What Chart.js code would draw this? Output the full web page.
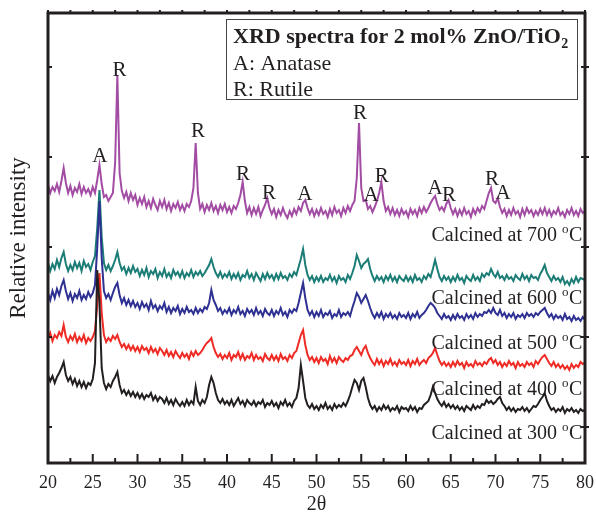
<!DOCTYPE html>
<html><head><meta charset="utf-8">
<script src="https://cdn.jsdelivr.net/npm/chart.js@4.4.0/dist/chart.umd.min.js"></script>
<style>html,body{margin:0;padding:0;background:#fff;overflow:hidden}</style>
</head><body>
<canvas id="c" width="596" height="515" style="display:block;width:596px;height:515px"></canvas>
<script>
// 2θ sampling grid (degrees)
const thetaStart = 20, thetaStep = 0.25;

const intensity700 = [
278,270,276,272,279,271,282,295,280,270,277,268,275,271,279,269,276,270,274,268,
276,270,283,298,279,266,268,262,266,270,300,388,290,272,265,271,262,270,263,268,
258,265,259,266,256,262,255,264,258,253,262,256,263,254,260,252,259,255,261,253,
258,252,259,256,262,275,320,270,254,259,251,258,253,260,252,257,250,258,253,259,
251,256,250,257,254,260,268,281,262,250,256,248,255,249,256,247,253,258,265,255,
249,254,246,253,248,255,249,245,252,247,254,249,256,252,260,263,255,249,254,247,
253,248,255,249,252,246,254,248,256,250,253,247,255,250,257,252,258,262,285,340,
275,262,263,254,257,251,256,262,270,281,262,252,256,249,255,248,253,247,254,249,
252,246,254,249,253,247,255,250,256,251,255,260,264,267,259,253,256,252,259,263,
255,249,254,247,253,248,255,249,252,246,254,249,255,251,257,254,262,270,275,262,
260,265,256,250,254,247,253,248,255,249,252,246,254,248,255,250,253,247,252,248,
254,249,255,248,253,247,252,249,255,248,251,246,253,249,255,248,252,247,254,250,
252];
const intensity600 = [
200,192,199,194,203,196,205,211,199,192,198,193,201,195,200,192,202,196,199,193,
201,207,235,273,226,200,193,198,192,197,203,211,200,193,196,189,195,190,197,191,
194,187,193,188,195,186,192,189,194,185,191,187,194,186,190,185,193,188,191,186,
192,185,190,187,193,186,191,188,192,187,190,194,198,204,196,190,186,191,185,189,
186,191,184,189,185,190,183,188,186,192,185,189,183,190,186,182,189,184,190,185,
188,183,189,184,190,185,187,183,189,186,191,188,196,204,214,198,188,183,187,181,
186,182,187,181,185,183,188,182,186,180,187,183,185,181,188,184,190,197,208,202,
195,199,201,204,194,187,182,187,183,186,181,187,183,188,182,186,181,187,184,182,
187,182,186,181,188,183,185,181,187,184,189,186,194,203,194,186,182,187,183,186,
181,186,182,188,183,185,180,187,184,182,188,183,186,182,189,186,190,188,194,189,
186,191,185,187,183,188,184,186,182,188,185,183,189,184,187,182,188,185,186,183,
189,193,198,190,186,182,187,183,185,181,186,179,182,178,184,180,186,181,185,184,
183];
const intensity500 = [
170,163,172,165,174,168,177,183,172,164,170,162,169,165,172,163,168,164,171,166,
170,178,215,262,205,172,165,169,163,170,176,180,168,160,165,158,163,157,162,156,
160,154,161,156,159,153,162,155,158,152,157,154,160,151,156,150,155,152,157,149,
154,150,156,151,153,149,155,150,154,151,156,154,160,173,163,158,152,155,149,153,
150,155,148,153,150,156,149,152,147,154,150,153,148,155,149,152,147,154,150,148,
153,147,152,149,155,148,151,146,153,150,154,152,160,170,180,165,153,148,152,146,
151,147,153,146,150,148,152,145,149,147,153,146,150,148,151,147,155,162,170,166,
160,164,168,162,155,149,145,150,146,151,144,149,146,150,145,148,144,150,146,148,
145,150,144,149,146,151,145,148,150,153,157,160,158,155,150,147,144,149,145,147,
143,148,144,149,145,147,143,149,145,148,144,150,146,149,147,151,150,153,150,155,
150,148,153,147,150,145,149,146,150,144,148,146,149,145,150,147,149,146,150,148,
151,153,155,150,146,149,144,148,145,147,143,149,144,146,142,147,143,145,142,146,
143];
const intensity400 = [
124,130,122,128,125,131,127,138,126,121,127,123,129,121,126,122,128,120,125,122,
126,132,158,190,150,128,121,125,122,127,124,128,121,116,119,114,118,113,117,112,
116,111,117,113,115,110,116,111,114,109,115,112,108,113,107,111,106,112,108,105,
110,106,109,104,111,107,112,108,110,113,117,120,122,125,116,110,106,109,104,108,
105,110,103,108,106,111,104,109,103,107,105,110,103,108,104,106,102,109,105,103,
108,103,107,102,109,104,106,102,108,105,110,112,120,128,133,118,108,103,106,101,
105,100,106,102,104,99,107,101,105,100,106,103,101,105,103,107,108,113,116,112,
108,114,117,110,105,101,98,104,99,103,97,102,99,104,98,101,97,103,99,101,
98,103,97,102,99,104,98,101,103,100,105,107,110,115,108,102,98,101,97,100,
96,101,97,102,98,100,95,101,97,99,96,102,98,100,97,101,99,103,105,100,
103,98,101,96,100,97,102,98,100,95,101,97,99,96,101,98,100,96,102,99,
103,106,108,104,100,97,101,96,99,95,98,94,97,93,99,95,98,96,101,99,
100];
const intensity300 = [
88,82,87,80,86,90,95,101,88,82,86,79,84,77,82,76,81,75,80,78,
84,100,193,160,95,80,74,79,76,82,86,91,78,70,73,68,72,67,71,66,
70,65,69,64,68,66,70,63,67,62,66,64,60,65,59,63,58,64,60,57,
61,57,63,58,62,59,76,62,58,63,60,66,78,86,80,70,63,60,64,59,
62,58,63,57,61,65,59,62,57,63,60,58,62,57,61,59,63,56,60,58,
62,57,60,55,61,58,63,57,60,56,62,65,75,98,82,65,58,55,59,54,
57,53,58,55,60,54,57,53,59,55,58,56,60,57,62,68,76,83,80,73,
82,85,76,65,58,54,57,52,56,53,58,54,57,52,55,53,57,51,56,54,
55,52,57,53,56,51,55,54,58,60,62,68,76,70,64,60,57,61,56,59,
55,58,54,57,53,56,52,57,55,53,58,54,57,55,59,58,63,60,62,59,
61,64,66,60,57,53,56,52,55,51,54,53,56,52,55,51,54,57,56,59,
63,66,70,62,57,53,55,51,54,52,56,50,54,52,55,51,53,50,54,52,
53];

const seriesNames = ['Calcined at 700', 'Calcined at 600', 'Calcined at 500', 'Calcined at 400', 'Calcined at 300'];
const xTickValues = [20,25,30,35,40,45,50,55,60,65,70,75,80];
const yTickValues = [36,126,216,306,396];

// Phase letters over the 700 °C pattern: letter, 2θ, height
const peakLetters = ['A','R','R','R','R','A','R','A','R','A','R','R','A'];
const peakTheta   = [25.8,28.0,36.75,41.8,44.7,48.7,54.85,56.1,57.3,63.25,64.8,69.6,70.85];
const peakHeight  = [301,387,326,283,264,263,344,262,281,269,262,278,264];
// label anchors for the series captions (right aligned)
const captionTheta = 79.7;
const captionHeight = [222,159,114,68,24];

const colors = ['#a24da3','#1b7d76','#2e3192','#ee2b24','#231f20'];
const allSeries = [intensity700,intensity600,intensity500,intensity400,intensity300];

const twoTheta = intensity700.map((_, i) => thetaStart + i * thetaStep);

const SERIF = "'Liberation Serif','Times New Roman',serif";
const INK = '#231f20';

const decor = {
  id: 'decor',
  afterDraw(chart) {
    const {ctx, chartArea: a, scales: {x, y}} = chart;
    ctx.save();
    // frame
    ctx.strokeStyle = INK;
    ctx.lineWidth = 3;
    ctx.strokeRect(a.left, a.top, a.right - a.left, a.bottom - a.top);
    // x ticks (major + minor, inward)
    ctx.lineWidth = 2;
    for (let i = 0; i < xTickValues.length; i++) {
      const v = xTickValues[i];
      const px = x.getPixelForValue(v);
      ctx.beginPath(); ctx.moveTo(px, a.bottom); ctx.lineTo(px, a.bottom - 9); ctx.stroke();
      ctx.beginPath(); ctx.moveTo(px, a.top); ctx.lineTo(px, a.top - 3); ctx.stroke();
      if (i < xTickValues.length - 1) {
        const pm = x.getPixelForValue(v + 2.5);
        ctx.beginPath(); ctx.moveTo(pm, a.bottom); ctx.lineTo(pm, a.bottom - 5); ctx.stroke();
        ctx.beginPath(); ctx.moveTo(pm, a.top); ctx.lineTo(pm, a.top - 3); ctx.stroke();
      }
    }
    yTickValues.forEach(v => {
      const py = y.getPixelForValue(v);
      ctx.beginPath(); ctx.moveTo(a.left, py); ctx.lineTo(a.left + 4, py); ctx.stroke();
      ctx.beginPath(); ctx.moveTo(a.right - 4, py); ctx.lineTo(a.right + 4, py); ctx.stroke();
    });
    // peak letters
    ctx.fillStyle = INK;
    ctx.font = '21px ' + SERIF;
    ctx.textAlign = 'center';
    ctx.textBaseline = 'alphabetic';
    peakLetters.forEach((L, i) => {
      ctx.fillText(L, x.getPixelForValue(peakTheta[i]), y.getPixelForValue(peakHeight[i]));
    });
    // captions
    const capX = x.getPixelForValue(captionTheta);
    seriesNames.forEach((name, i) => {
      const by = y.getPixelForValue(captionHeight[i]);
      ctx.textAlign = 'right';
      ctx.font = '20px ' + SERIF;
      const wC = ctx.measureText('C').width;
      ctx.fillText('C', capX, by);
      ctx.font = '13px ' + SERIF;
      const wo = ctx.measureText('o').width;
      ctx.fillText('o', capX - wC - 0.5, by - 8);
      ctx.font = '20px ' + SERIF;
      ctx.fillText(name + ' ', capX - wC - wo - 0.5, by);
    });
    // info box
    const bx = 226.5, by0 = 19.5, bw = 351, bh = 80;
    ctx.fillStyle = '#fff';
    ctx.fillRect(bx, by0, bw, bh);
    ctx.strokeStyle = '#444';
    ctx.lineWidth = 1;
    ctx.strokeRect(bx, by0, bw, bh);
    ctx.fillStyle = INK;
    ctx.textAlign = 'left';
    ctx.font = 'bold 22px ' + SERIF;
    const t1 = 'XRD spectra for 2 mol% ZnO/TiO';
    ctx.fillText(t1, 233, 43);
    const w1 = ctx.measureText(t1).width;
    ctx.font = 'bold 14px ' + SERIF;
    ctx.fillText('2', 233 + w1 + 0.5, 48);
    ctx.font = '22px ' + SERIF;
    ctx.fillText('A: Anatase', 233, 70);
    ctx.fillText('R: Rutile', 233, 96);
    ctx.restore();
  }
};

new Chart(document.getElementById('c'), {
  type: 'line',
  data: {
    datasets: allSeries.map((arr, i) => ({
      label: seriesNames[i],
      data: twoTheta.map((t, k) => ({x: t, y: arr[k]})),
      borderColor: colors[i],
      borderWidth: 2,
      borderJoinStyle: 'miter',
      pointRadius: 0,
      tension: 0,
      fill: false,
      order: 4 - i
    }))
  },
  options: {
    responsive: false,
    animation: false,
    devicePixelRatio: 1,
    layout: {padding: {top: 13, right: 11, left: 0, bottom: 0}},
    plugins: {legend: {display: false}, tooltip: {enabled: false}},
    scales: {
      x: {
        type: 'linear', min: 20, max: 80,
        grid: {display: false}, border: {display: false},
        afterBuildTicks: s => { s.ticks = xTickValues.map(v => ({value: v})); },
        afterFit: s => { s.height = 52; },
        ticks: {color: INK, padding: 1, maxRotation: 0, autoSkip: false, font: {family: SERIF, size: 18}},
        title: {display: true, text: '2θ', color: INK, padding: {top: 0, bottom: 0}, font: {family: SERIF, size: 20, lineHeight: 1}}
      },
      y: {
        type: 'linear', min: 0, max: 450,
        grid: {display: false}, border: {display: false},
        afterBuildTicks: s => { s.ticks = yTickValues.map(v => ({value: v})); },
        afterFit: s => { s.width = 48; },
        ticks: {display: false},
        title: {display: true, text: 'Relative intensity', color: INK, padding: {top: 5, bottom: 0}, font: {family: SERIF, size: 23}}
      }
    }
  },
  plugins: [decor]
});
</script>
</body></html>
